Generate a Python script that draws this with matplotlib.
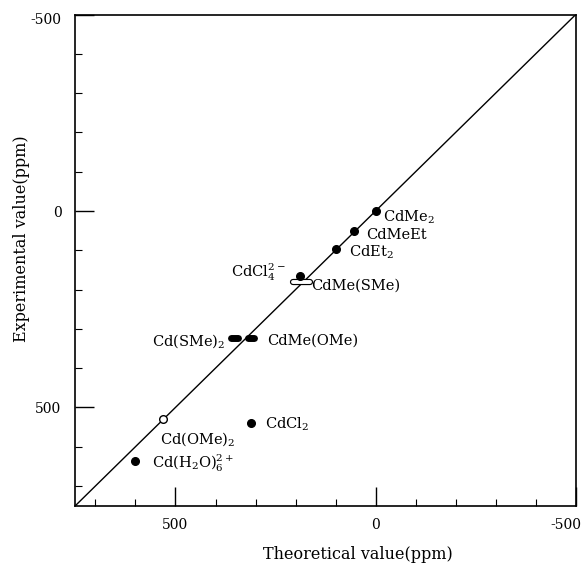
import matplotlib
matplotlib.use("Agg")
import matplotlib.pyplot as plt
from matplotlib.ticker import MultipleLocator
from matplotlib.transforms import ScaledTranslation

plt.rcParams.update({
    "font.family": "DejaVu Serif",
    "mathtext.fontset": "dejavuserif",
    "font.size": 10,
})

# filled points: theoretical (x) vs experimental (y), ppm
dot_names = ["CdMe2", "CdMeEt", "CdEt2", "CdCl4", "CdCl2", "CdH2O6"]
dot_theo = [0, 55, 100, 190, 312, 600]
dot_expt = [0, 50, 96, 165, 539, 636]

# open point, Cd(OMe)2
open_theo = [532]
open_expt = [530]

# theoretical spread drawn as bars
bar_names = ["Cd(SMe)2", "CdMe(OMe)", "CdMe(SMe)"]
bar_lo = [345, 304, 165]
bar_hi = [362, 318, 206]
bar_expt = [323, 323, 182]
bar_filled = [True, True, False]

labels = [r"CdMe$_2$", "CdMeEt", r"CdEt$_2$", r"CdCl$_4^{2-}$", "CdMe(SMe)",
          r"Cd(SMe)$_2$", "CdMe(OMe)", r"CdCl$_2$", r"Cd(OMe)$_2$",
          r"Cd(H$_2$O)$_6^{2+}$"]
# label anchor (x, y, ha) in data coords
label_pos = [(-19, 27, "left"), (24, 71, "left"), (66, 116, "left"),
             (226, 168, "right"), (160, 199, "left"), (376, 343, "right"),
             (272, 341, "left"), (276, 555, "left"), (539, 593, "left"),
             (559, 654, "left")]

fig = plt.figure(figsize=(5.85, 5.63), dpi=100)
ax = fig.add_axes([0.129, 0.102, 0.855, 0.872])

ax.plot([750, -500], [750, -500], color="black", lw=1.0, zorder=1)

ax.plot(dot_theo, dot_expt, "o", color="black", ms=5.5, zorder=3)
ax.plot(open_theo, open_expt, "o", mfc="white", mec="black", mew=1.0, ms=5.5, zorder=3)

for lo, hi, y, filled in zip(bar_lo, bar_hi, bar_expt, bar_filled):
    if filled:
        ax.plot([lo, hi], [y, y], color="black", lw=5.0, solid_capstyle="round", zorder=2)
    else:
        ax.plot([lo, hi], [y, y], color="black", lw=4.5, solid_capstyle="round", zorder=2)
        ax.plot([lo, hi], [y, y], color="white", lw=2.8, solid_capstyle="round", zorder=2)

for txt, (lx, ly, ha) in zip(labels, label_pos):
    ax.text(lx, ly, txt, ha=ha, va="baseline", fontsize=10.5)

ax.set_xlim(750, -500)
ax.set_ylim(750, -500)
ax.xaxis.set_major_locator(MultipleLocator(500))
ax.xaxis.set_minor_locator(MultipleLocator(100))
ax.yaxis.set_major_locator(MultipleLocator(500))
ax.yaxis.set_minor_locator(MultipleLocator(100))
ax.tick_params(which="both", direction="in", top=False, right=False, labelsize=10)
ax.tick_params(which="major", length=14, width=1.0)
ax.tick_params(which="minor", length=5, width=0.8)
ax.tick_params(axis="x", which="major", pad=9)
ax.tick_params(axis="y", which="major", pad=10)
ax.xaxis.set_major_formatter(plt.FuncFormatter(lambda v, p: f"{int(v)}"))
ax.yaxis.set_major_formatter(plt.FuncFormatter(lambda v, p: f"{int(v)}"))
for s in ax.spines.values():
    s.set_linewidth(1.2)

# nudge the right-most x label inside the canvas, and the top y label down
for lab in ax.get_xticklabels():
    if lab.get_text() == "-500":
        lab.set_transform(lab.get_transform() + ScaledTranslation(-7 / 72, 0, fig.dpi_scale_trans))
for lab in ax.get_yticklabels():
    if lab.get_text() == "-500":
        lab.set_transform(lab.get_transform() + ScaledTranslation(0, -3 / 72, fig.dpi_scale_trans))

ax.set_xlabel("Theoretical value(ppm)", fontsize=11.5)
ax.set_ylabel("Experimental value(ppm)", fontsize=11.5)
ax.xaxis.set_label_coords(0.565, -0.083)
ax.yaxis.set_label_coords(-0.091, 0.543)

fig.savefig("out.png", dpi=100)
